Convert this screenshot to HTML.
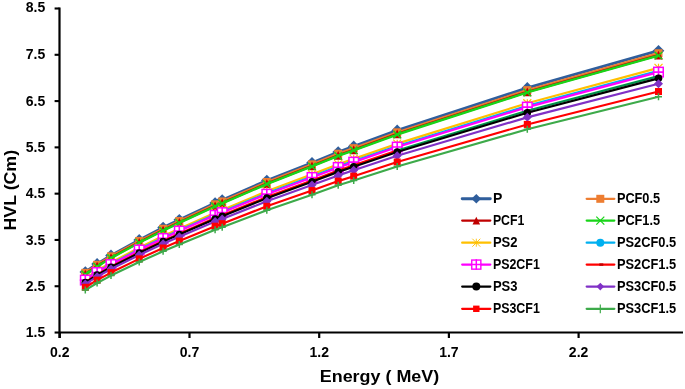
<!DOCTYPE html>
<html><head><meta charset="utf-8"><style>
html,body{margin:0;padding:0;background:#fff;}
svg{display:block;will-change:transform;}
text{font-family:"Liberation Sans",sans-serif;font-weight:bold;fill:#000;}
.tk{font-size:14px;}
.lg{font-size:14px;}
.at{font-size:17px;}
</style></head><body>
<svg width="685" height="389" viewBox="0 0 685 389">
<rect width="685" height="389" fill="#fff"/>
<polyline points="85.30,272.00 97.10,263.90 111.00,255.40 139.20,239.90 163.10,227.60 179.30,219.80 215.10,203.00 222.20,200.10 266.80,180.50 312.00,162.70 338.20,152.00 353.70,146.40 397.20,130.40 527.30,87.90 658.50,50.70" fill="none" stroke="#2F5E9C" stroke-width="2.8" stroke-linejoin="round"/>
<path d="M85.30 266.20L91.10 272.00L85.30 277.80L79.50 272.00Z" fill="#2F5E9C"/>
<path d="M97.10 258.10L102.90 263.90L97.10 269.70L91.30 263.90Z" fill="#2F5E9C"/>
<path d="M111.00 249.60L116.80 255.40L111.00 261.20L105.20 255.40Z" fill="#2F5E9C"/>
<path d="M139.20 234.10L145.00 239.90L139.20 245.70L133.40 239.90Z" fill="#2F5E9C"/>
<path d="M163.10 221.80L168.90 227.60L163.10 233.40L157.30 227.60Z" fill="#2F5E9C"/>
<path d="M179.30 214.00L185.10 219.80L179.30 225.60L173.50 219.80Z" fill="#2F5E9C"/>
<path d="M215.10 197.20L220.90 203.00L215.10 208.80L209.30 203.00Z" fill="#2F5E9C"/>
<path d="M222.20 194.30L228.00 200.10L222.20 205.90L216.40 200.10Z" fill="#2F5E9C"/>
<path d="M266.80 174.70L272.60 180.50L266.80 186.30L261.00 180.50Z" fill="#2F5E9C"/>
<path d="M312.00 156.90L317.80 162.70L312.00 168.50L306.20 162.70Z" fill="#2F5E9C"/>
<path d="M338.20 146.20L344.00 152.00L338.20 157.80L332.40 152.00Z" fill="#2F5E9C"/>
<path d="M353.70 140.60L359.50 146.40L353.70 152.20L347.90 146.40Z" fill="#2F5E9C"/>
<path d="M397.20 124.60L403.00 130.40L397.20 136.20L391.40 130.40Z" fill="#2F5E9C"/>
<path d="M527.30 82.10L533.10 87.90L527.30 93.70L521.50 87.90Z" fill="#2F5E9C"/>
<path d="M658.50 44.90L664.30 50.70L658.50 56.50L652.70 50.70Z" fill="#2F5E9C"/>
<polyline points="85.30,272.83 97.10,264.79 111.00,256.35 139.20,240.96 163.10,228.76 179.30,221.02 215.10,204.34 222.20,201.46 266.80,182.01 312.00,164.35 338.20,153.73 353.70,148.17 397.20,132.30 527.30,90.13 658.50,53.23" fill="none" stroke="#ED7D31" stroke-width="2.4" stroke-linejoin="round"/>
<rect x="81.30" y="268.83" width="8" height="8" fill="#ED7D31"/>
<rect x="93.10" y="260.79" width="8" height="8" fill="#ED7D31"/>
<rect x="107.00" y="252.35" width="8" height="8" fill="#ED7D31"/>
<rect x="135.20" y="236.96" width="8" height="8" fill="#ED7D31"/>
<rect x="159.10" y="224.76" width="8" height="8" fill="#ED7D31"/>
<rect x="175.30" y="217.02" width="8" height="8" fill="#ED7D31"/>
<rect x="211.10" y="200.34" width="8" height="8" fill="#ED7D31"/>
<rect x="218.20" y="197.46" width="8" height="8" fill="#ED7D31"/>
<rect x="262.80" y="178.01" width="8" height="8" fill="#ED7D31"/>
<rect x="308.00" y="160.35" width="8" height="8" fill="#ED7D31"/>
<rect x="334.20" y="149.73" width="8" height="8" fill="#ED7D31"/>
<rect x="349.70" y="144.17" width="8" height="8" fill="#ED7D31"/>
<rect x="393.20" y="128.30" width="8" height="8" fill="#ED7D31"/>
<rect x="523.30" y="86.13" width="8" height="8" fill="#ED7D31"/>
<rect x="654.50" y="49.23" width="8" height="8" fill="#ED7D31"/>
<polyline points="85.30,274.04 97.10,266.03 111.00,257.63 139.20,242.30 163.10,230.13 179.30,222.42 215.10,205.80 222.20,202.93 266.80,183.54 312.00,165.92 338.20,155.34 353.70,149.79 397.20,133.96 527.30,91.88 658.50,55.04" fill="none" stroke="#C00000" stroke-width="2.4" stroke-linejoin="round"/>
<path d="M85.30 269.64L89.70 278.44L80.90 278.44Z" fill="#C00000"/>
<path d="M97.10 261.63L101.50 270.43L92.70 270.43Z" fill="#C00000"/>
<path d="M111.00 253.23L115.40 262.03L106.60 262.03Z" fill="#C00000"/>
<path d="M139.20 237.90L143.60 246.70L134.80 246.70Z" fill="#C00000"/>
<path d="M163.10 225.73L167.50 234.53L158.70 234.53Z" fill="#C00000"/>
<path d="M179.30 218.02L183.70 226.82L174.90 226.82Z" fill="#C00000"/>
<path d="M215.10 201.40L219.50 210.20L210.70 210.20Z" fill="#C00000"/>
<path d="M222.20 198.53L226.60 207.33L217.80 207.33Z" fill="#C00000"/>
<path d="M266.80 179.14L271.20 187.94L262.40 187.94Z" fill="#C00000"/>
<path d="M312.00 161.52L316.40 170.32L307.60 170.32Z" fill="#C00000"/>
<path d="M338.20 150.94L342.60 159.74L333.80 159.74Z" fill="#C00000"/>
<path d="M353.70 145.39L358.10 154.19L349.30 154.19Z" fill="#C00000"/>
<path d="M397.20 129.56L401.60 138.36L392.80 138.36Z" fill="#C00000"/>
<path d="M527.30 87.48L531.70 96.28L522.90 96.28Z" fill="#C00000"/>
<path d="M658.50 50.64L662.90 59.44L654.10 59.44Z" fill="#C00000"/>
<polyline points="85.30,274.48 97.10,266.48 111.00,258.08 139.20,242.77 163.10,230.62 179.30,222.91 215.10,206.30 222.20,203.43 266.80,184.06 312.00,166.46 338.20,155.88 353.70,150.34 397.20,134.51 527.30,92.46 658.50,55.63" fill="none" stroke="#18D418" stroke-width="2.4" stroke-linejoin="round"/>
<path d="M81.60 270.78L89.00 278.18M89.00 270.78L81.60 278.18" stroke="#18D418" stroke-width="1.5" fill="none"/>
<path d="M93.40 262.78L100.80 270.18M100.80 262.78L93.40 270.18" stroke="#18D418" stroke-width="1.5" fill="none"/>
<path d="M107.30 254.38L114.70 261.78M114.70 254.38L107.30 261.78" stroke="#18D418" stroke-width="1.5" fill="none"/>
<path d="M135.50 239.07L142.90 246.47M142.90 239.07L135.50 246.47" stroke="#18D418" stroke-width="1.5" fill="none"/>
<path d="M159.40 226.92L166.80 234.32M166.80 226.92L159.40 234.32" stroke="#18D418" stroke-width="1.5" fill="none"/>
<path d="M175.60 219.21L183.00 226.61M183.00 219.21L175.60 226.61" stroke="#18D418" stroke-width="1.5" fill="none"/>
<path d="M211.40 202.60L218.80 210.00M218.80 202.60L211.40 210.00" stroke="#18D418" stroke-width="1.5" fill="none"/>
<path d="M218.50 199.73L225.90 207.13M225.90 199.73L218.50 207.13" stroke="#18D418" stroke-width="1.5" fill="none"/>
<path d="M263.10 180.36L270.50 187.76M270.50 180.36L263.10 187.76" stroke="#18D418" stroke-width="1.5" fill="none"/>
<path d="M308.30 162.76L315.70 170.16M315.70 162.76L308.30 170.16" stroke="#18D418" stroke-width="1.5" fill="none"/>
<path d="M334.50 152.18L341.90 159.58M341.90 152.18L334.50 159.58" stroke="#18D418" stroke-width="1.5" fill="none"/>
<path d="M350.00 146.64L357.40 154.04M357.40 146.64L350.00 154.04" stroke="#18D418" stroke-width="1.5" fill="none"/>
<path d="M393.50 130.81L400.90 138.21M400.90 130.81L393.50 138.21" stroke="#18D418" stroke-width="1.5" fill="none"/>
<path d="M523.60 88.76L531.00 96.16M531.00 88.76L523.60 96.16" stroke="#18D418" stroke-width="1.5" fill="none"/>
<path d="M654.80 51.93L662.20 59.33M662.20 51.93L654.80 59.33" stroke="#18D418" stroke-width="1.5" fill="none"/>
<polyline points="85.30,278.32 97.10,270.62 111.00,262.54 139.20,247.79 163.10,236.09 179.30,228.68 215.10,212.70 222.20,209.94 266.80,191.30 312.00,174.37 338.20,164.19 353.70,158.87 397.20,143.65 527.30,103.23 658.50,67.85" fill="none" stroke="#FFC000" stroke-width="2.15" stroke-linejoin="round"/>
<path d="M81.30 274.32L89.30 282.32M89.30 274.32L81.30 282.32M85.30 274.32L85.30 282.32" stroke="#FFC000" stroke-width="1.2" fill="none"/>
<path d="M93.10 266.62L101.10 274.62M101.10 266.62L93.10 274.62M97.10 266.62L97.10 274.62" stroke="#FFC000" stroke-width="1.2" fill="none"/>
<path d="M107.00 258.54L115.00 266.54M115.00 258.54L107.00 266.54M111.00 258.54L111.00 266.54" stroke="#FFC000" stroke-width="1.2" fill="none"/>
<path d="M135.20 243.79L143.20 251.79M143.20 243.79L135.20 251.79M139.20 243.79L139.20 251.79" stroke="#FFC000" stroke-width="1.2" fill="none"/>
<path d="M159.10 232.09L167.10 240.09M167.10 232.09L159.10 240.09M163.10 232.09L163.10 240.09" stroke="#FFC000" stroke-width="1.2" fill="none"/>
<path d="M175.30 224.68L183.30 232.68M183.30 224.68L175.30 232.68M179.30 224.68L179.30 232.68" stroke="#FFC000" stroke-width="1.2" fill="none"/>
<path d="M211.10 208.70L219.10 216.70M219.10 208.70L211.10 216.70M215.10 208.70L215.10 216.70" stroke="#FFC000" stroke-width="1.2" fill="none"/>
<path d="M218.20 205.94L226.20 213.94M226.20 205.94L218.20 213.94M222.20 205.94L222.20 213.94" stroke="#FFC000" stroke-width="1.2" fill="none"/>
<path d="M262.80 187.30L270.80 195.30M270.80 187.30L262.80 195.30M266.80 187.30L266.80 195.30" stroke="#FFC000" stroke-width="1.2" fill="none"/>
<path d="M308.00 170.37L316.00 178.37M316.00 170.37L308.00 178.37M312.00 170.37L312.00 178.37" stroke="#FFC000" stroke-width="1.2" fill="none"/>
<path d="M334.20 160.19L342.20 168.19M342.20 160.19L334.20 168.19M338.20 160.19L338.20 168.19" stroke="#FFC000" stroke-width="1.2" fill="none"/>
<path d="M349.70 154.87L357.70 162.87M357.70 154.87L349.70 162.87M353.70 154.87L353.70 162.87" stroke="#FFC000" stroke-width="1.2" fill="none"/>
<path d="M393.20 139.65L401.20 147.65M401.20 139.65L393.20 147.65M397.20 139.65L397.20 147.65" stroke="#FFC000" stroke-width="1.2" fill="none"/>
<path d="M523.30 99.23L531.30 107.23M531.30 99.23L523.30 107.23M527.30 99.23L527.30 107.23" stroke="#FFC000" stroke-width="1.2" fill="none"/>
<path d="M654.50 63.85L662.50 71.85M662.50 63.85L654.50 71.85M658.50 63.85L658.50 71.85" stroke="#FFC000" stroke-width="1.2" fill="none"/>
<polyline points="85.30,279.59 97.10,271.95 111.00,263.94 139.20,249.31 163.10,237.71 179.30,230.35 215.10,214.50 222.20,211.77 266.80,193.27 312.00,176.48 338.20,166.38 353.70,161.09 397.20,145.99 527.30,105.88 658.50,70.76" fill="none" stroke="#00B0F0" stroke-width="2.15" stroke-linejoin="round"/>
<circle cx="85.30" cy="279.59" r="3.8" fill="#00B0F0"/>
<circle cx="97.10" cy="271.95" r="3.8" fill="#00B0F0"/>
<circle cx="111.00" cy="263.94" r="3.8" fill="#00B0F0"/>
<circle cx="139.20" cy="249.31" r="3.8" fill="#00B0F0"/>
<circle cx="163.10" cy="237.71" r="3.8" fill="#00B0F0"/>
<circle cx="179.30" cy="230.35" r="3.8" fill="#00B0F0"/>
<circle cx="215.10" cy="214.50" r="3.8" fill="#00B0F0"/>
<circle cx="222.20" cy="211.77" r="3.8" fill="#00B0F0"/>
<circle cx="266.80" cy="193.27" r="3.8" fill="#00B0F0"/>
<circle cx="312.00" cy="176.48" r="3.8" fill="#00B0F0"/>
<circle cx="338.20" cy="166.38" r="3.8" fill="#00B0F0"/>
<circle cx="353.70" cy="161.09" r="3.8" fill="#00B0F0"/>
<circle cx="397.20" cy="145.99" r="3.8" fill="#00B0F0"/>
<circle cx="527.30" cy="105.88" r="3.8" fill="#00B0F0"/>
<circle cx="658.50" cy="70.76" r="3.8" fill="#00B0F0"/>
<polyline points="85.30,280.08 97.10,272.48 111.00,264.51 139.20,249.95 163.10,238.41 179.30,231.08 215.10,215.30 222.20,212.58 266.80,194.16 312.00,177.43 338.20,167.38 353.70,162.11 397.20,147.07 527.30,107.10 658.50,72.09" fill="none" stroke="#FF00FF" stroke-width="2.15" stroke-linejoin="round"/>
<rect x="80.55" y="275.33" width="9.5" height="9.5" fill="#fff" stroke="#FF00FF" stroke-width="1.5"/><path d="M85.30 274.58V285.58M79.80 280.08H90.80" stroke="#FF00FF" stroke-width="1.6"/>
<rect x="92.35" y="267.73" width="9.5" height="9.5" fill="#fff" stroke="#FF00FF" stroke-width="1.5"/><path d="M97.10 266.98V277.98M91.60 272.48H102.60" stroke="#FF00FF" stroke-width="1.6"/>
<rect x="106.25" y="259.76" width="9.5" height="9.5" fill="#fff" stroke="#FF00FF" stroke-width="1.5"/><path d="M111.00 259.01V270.01M105.50 264.51H116.50" stroke="#FF00FF" stroke-width="1.6"/>
<rect x="134.45" y="245.20" width="9.5" height="9.5" fill="#fff" stroke="#FF00FF" stroke-width="1.5"/><path d="M139.20 244.45V255.45M133.70 249.95H144.70" stroke="#FF00FF" stroke-width="1.6"/>
<rect x="158.35" y="233.66" width="9.5" height="9.5" fill="#fff" stroke="#FF00FF" stroke-width="1.5"/><path d="M163.10 232.91V243.91M157.60 238.41H168.60" stroke="#FF00FF" stroke-width="1.6"/>
<rect x="174.55" y="226.33" width="9.5" height="9.5" fill="#fff" stroke="#FF00FF" stroke-width="1.5"/><path d="M179.30 225.58V236.58M173.80 231.08H184.80" stroke="#FF00FF" stroke-width="1.6"/>
<rect x="210.35" y="210.55" width="9.5" height="9.5" fill="#fff" stroke="#FF00FF" stroke-width="1.5"/><path d="M215.10 209.80V220.80M209.60 215.30H220.60" stroke="#FF00FF" stroke-width="1.6"/>
<rect x="217.45" y="207.83" width="9.5" height="9.5" fill="#fff" stroke="#FF00FF" stroke-width="1.5"/><path d="M222.20 207.08V218.08M216.70 212.58H227.70" stroke="#FF00FF" stroke-width="1.6"/>
<rect x="262.05" y="189.41" width="9.5" height="9.5" fill="#fff" stroke="#FF00FF" stroke-width="1.5"/><path d="M266.80 188.66V199.66M261.30 194.16H272.30" stroke="#FF00FF" stroke-width="1.6"/>
<rect x="307.25" y="172.68" width="9.5" height="9.5" fill="#fff" stroke="#FF00FF" stroke-width="1.5"/><path d="M312.00 171.93V182.93M306.50 177.43H317.50" stroke="#FF00FF" stroke-width="1.6"/>
<rect x="333.45" y="162.63" width="9.5" height="9.5" fill="#fff" stroke="#FF00FF" stroke-width="1.5"/><path d="M338.20 161.88V172.88M332.70 167.38H343.70" stroke="#FF00FF" stroke-width="1.6"/>
<rect x="348.95" y="157.36" width="9.5" height="9.5" fill="#fff" stroke="#FF00FF" stroke-width="1.5"/><path d="M353.70 156.61V167.61M348.20 162.11H359.20" stroke="#FF00FF" stroke-width="1.6"/>
<rect x="392.45" y="142.32" width="9.5" height="9.5" fill="#fff" stroke="#FF00FF" stroke-width="1.5"/><path d="M397.20 141.57V152.57M391.70 147.07H402.70" stroke="#FF00FF" stroke-width="1.6"/>
<rect x="522.55" y="102.35" width="9.5" height="9.5" fill="#fff" stroke="#FF00FF" stroke-width="1.5"/><path d="M527.30 101.60V112.60M521.80 107.10H532.80" stroke="#FF00FF" stroke-width="1.6"/>
<rect x="653.75" y="67.34" width="9.5" height="9.5" fill="#fff" stroke="#FF00FF" stroke-width="1.5"/><path d="M658.50 66.59V77.59M653.00 72.09H664.00" stroke="#FF00FF" stroke-width="1.6"/>
<polyline points="85.30,282.13 97.10,274.61 111.00,266.71 139.20,252.31 163.10,240.87 179.30,233.62 215.10,217.99 222.20,215.30 266.80,197.06 312.00,180.49 338.20,170.54 353.70,165.32 397.20,150.42" fill="none" stroke="#FF0000" stroke-width="2.15" stroke-linejoin="round"/>
<polyline points="397.20,150.42 527.30,110.82 658.50,76.13" fill="none" stroke="#00934A" stroke-width="2.15" stroke-linejoin="round"/>
<rect x="84.30" y="280.93" width="4" height="2.4" fill="#C00000"/>
<rect x="96.10" y="273.41" width="4" height="2.4" fill="#C00000"/>
<rect x="110.00" y="265.51" width="4" height="2.4" fill="#C00000"/>
<rect x="138.20" y="251.11" width="4" height="2.4" fill="#C00000"/>
<rect x="162.10" y="239.67" width="4" height="2.4" fill="#C00000"/>
<rect x="178.30" y="232.42" width="4" height="2.4" fill="#C00000"/>
<rect x="214.10" y="216.79" width="4" height="2.4" fill="#C00000"/>
<rect x="221.20" y="214.10" width="4" height="2.4" fill="#C00000"/>
<rect x="265.80" y="195.86" width="4" height="2.4" fill="#C00000"/>
<rect x="311.00" y="179.29" width="4" height="2.4" fill="#C00000"/>
<rect x="337.20" y="169.34" width="4" height="2.4" fill="#C00000"/>
<rect x="352.70" y="164.12" width="4" height="2.4" fill="#C00000"/>
<rect x="396.20" y="149.22" width="4" height="2.4" fill="#C00000"/>
<rect x="526.30" y="109.62" width="4" height="2.4" fill="#C00000"/>
<rect x="657.50" y="74.93" width="4" height="2.4" fill="#C00000"/>
<polyline points="85.30,282.56 97.10,275.10 111.00,267.26 139.20,252.97 163.10,241.62 179.30,234.43 215.10,218.93 222.20,216.26 266.80,198.17 312.00,181.75 338.20,171.87 353.70,166.71 397.20,151.94 527.30,112.70 658.50,78.34" fill="none" stroke="#000000" stroke-width="2.15" stroke-linejoin="round"/>
<circle cx="85.30" cy="282.56" r="3.8" fill="#000000"/>
<circle cx="97.10" cy="275.10" r="3.8" fill="#000000"/>
<circle cx="111.00" cy="267.26" r="3.8" fill="#000000"/>
<circle cx="139.20" cy="252.97" r="3.8" fill="#000000"/>
<circle cx="163.10" cy="241.62" r="3.8" fill="#000000"/>
<circle cx="179.30" cy="234.43" r="3.8" fill="#000000"/>
<circle cx="215.10" cy="218.93" r="3.8" fill="#000000"/>
<circle cx="222.20" cy="216.26" r="3.8" fill="#000000"/>
<circle cx="266.80" cy="198.17" r="3.8" fill="#000000"/>
<circle cx="312.00" cy="181.75" r="3.8" fill="#000000"/>
<circle cx="338.20" cy="171.87" r="3.8" fill="#000000"/>
<circle cx="353.70" cy="166.71" r="3.8" fill="#000000"/>
<circle cx="397.20" cy="151.94" r="3.8" fill="#000000"/>
<circle cx="527.30" cy="112.70" r="3.8" fill="#000000"/>
<circle cx="658.50" cy="78.34" r="3.8" fill="#000000"/>
<polyline points="85.30,284.04 97.10,276.71 111.00,269.01 139.20,254.98 163.10,243.84 179.30,236.78 215.10,221.57 222.20,218.94 266.80,201.19 312.00,185.08 338.20,175.39 353.70,170.32 397.20,155.83 527.30,117.35 658.50,83.67" fill="none" stroke="#8031C6" stroke-width="2.15" stroke-linejoin="round"/>
<path d="M85.30 279.54L89.80 284.04L85.30 288.54L80.80 284.04Z" fill="#8031C6"/>
<path d="M97.10 272.21L101.60 276.71L97.10 281.21L92.60 276.71Z" fill="#8031C6"/>
<path d="M111.00 264.51L115.50 269.01L111.00 273.51L106.50 269.01Z" fill="#8031C6"/>
<path d="M139.20 250.48L143.70 254.98L139.20 259.48L134.70 254.98Z" fill="#8031C6"/>
<path d="M163.10 239.34L167.60 243.84L163.10 248.34L158.60 243.84Z" fill="#8031C6"/>
<path d="M179.30 232.28L183.80 236.78L179.30 241.28L174.80 236.78Z" fill="#8031C6"/>
<path d="M215.10 217.07L219.60 221.57L215.10 226.07L210.60 221.57Z" fill="#8031C6"/>
<path d="M222.20 214.44L226.70 218.94L222.20 223.44L217.70 218.94Z" fill="#8031C6"/>
<path d="M266.80 196.69L271.30 201.19L266.80 205.69L262.30 201.19Z" fill="#8031C6"/>
<path d="M312.00 180.58L316.50 185.08L312.00 189.58L307.50 185.08Z" fill="#8031C6"/>
<path d="M338.20 170.89L342.70 175.39L338.20 179.89L333.70 175.39Z" fill="#8031C6"/>
<path d="M353.70 165.82L358.20 170.32L353.70 174.82L349.20 170.32Z" fill="#8031C6"/>
<path d="M397.20 151.33L401.70 155.83L397.20 160.33L392.70 155.83Z" fill="#8031C6"/>
<path d="M527.30 112.85L531.80 117.35L527.30 121.85L522.80 117.35Z" fill="#8031C6"/>
<path d="M658.50 79.17L663.00 83.67L658.50 88.17L654.00 83.67Z" fill="#8031C6"/>
<polyline points="85.30,287.27 97.10,280.10 111.00,272.58 139.20,258.86 163.10,247.98 179.30,241.08 215.10,226.22 222.20,223.65 266.80,206.31 312.00,190.57 338.20,181.11 353.70,176.15 397.20,162.00 527.30,124.43 658.50,91.54" fill="none" stroke="#FF0000" stroke-width="2.15" stroke-linejoin="round"/>
<rect x="81.80" y="283.77" width="7.0" height="7.0" fill="#FF0000"/>
<rect x="93.60" y="276.60" width="7.0" height="7.0" fill="#FF0000"/>
<rect x="107.50" y="269.08" width="7.0" height="7.0" fill="#FF0000"/>
<rect x="135.70" y="255.36" width="7.0" height="7.0" fill="#FF0000"/>
<rect x="159.60" y="244.48" width="7.0" height="7.0" fill="#FF0000"/>
<rect x="175.80" y="237.58" width="7.0" height="7.0" fill="#FF0000"/>
<rect x="211.60" y="222.72" width="7.0" height="7.0" fill="#FF0000"/>
<rect x="218.70" y="220.15" width="7.0" height="7.0" fill="#FF0000"/>
<rect x="263.30" y="202.81" width="7.0" height="7.0" fill="#FF0000"/>
<rect x="308.50" y="187.07" width="7.0" height="7.0" fill="#FF0000"/>
<rect x="334.70" y="177.61" width="7.0" height="7.0" fill="#FF0000"/>
<rect x="350.20" y="172.65" width="7.0" height="7.0" fill="#FF0000"/>
<rect x="393.70" y="158.50" width="7.0" height="7.0" fill="#FF0000"/>
<rect x="523.80" y="120.93" width="7.0" height="7.0" fill="#FF0000"/>
<rect x="655.00" y="88.04" width="7.0" height="7.0" fill="#FF0000"/>
<polyline points="85.30,290.07 97.10,283.00 111.00,275.59 139.20,262.06 163.10,251.32 179.30,244.52 215.10,229.85 222.20,227.32 266.80,210.20 312.00,194.65 338.20,185.31 353.70,180.41 397.20,166.43 527.30,129.29 658.50,96.76" fill="none" stroke="#3DAA4A" stroke-width="2.15" stroke-linejoin="round"/>
<path d="M85.30 286.57V293.57M81.80 290.07H88.80" stroke="#3DAA4A" stroke-width="1.5" fill="none"/>
<path d="M97.10 279.50V286.50M93.60 283.00H100.60" stroke="#3DAA4A" stroke-width="1.5" fill="none"/>
<path d="M111.00 272.09V279.09M107.50 275.59H114.50" stroke="#3DAA4A" stroke-width="1.5" fill="none"/>
<path d="M139.20 258.56V265.56M135.70 262.06H142.70" stroke="#3DAA4A" stroke-width="1.5" fill="none"/>
<path d="M163.10 247.82V254.82M159.60 251.32H166.60" stroke="#3DAA4A" stroke-width="1.5" fill="none"/>
<path d="M179.30 241.02V248.02M175.80 244.52H182.80" stroke="#3DAA4A" stroke-width="1.5" fill="none"/>
<path d="M215.10 226.35V233.35M211.60 229.85H218.60" stroke="#3DAA4A" stroke-width="1.5" fill="none"/>
<path d="M222.20 223.82V230.82M218.70 227.32H225.70" stroke="#3DAA4A" stroke-width="1.5" fill="none"/>
<path d="M266.80 206.70V213.70M263.30 210.20H270.30" stroke="#3DAA4A" stroke-width="1.5" fill="none"/>
<path d="M312.00 191.15V198.15M308.50 194.65H315.50" stroke="#3DAA4A" stroke-width="1.5" fill="none"/>
<path d="M338.20 181.81V188.81M334.70 185.31H341.70" stroke="#3DAA4A" stroke-width="1.5" fill="none"/>
<path d="M353.70 176.91V183.91M350.20 180.41H357.20" stroke="#3DAA4A" stroke-width="1.5" fill="none"/>
<path d="M397.20 162.93V169.93M393.70 166.43H400.70" stroke="#3DAA4A" stroke-width="1.5" fill="none"/>
<path d="M527.30 125.79V132.79M523.80 129.29H530.80" stroke="#3DAA4A" stroke-width="1.5" fill="none"/>
<path d="M658.50 93.26V100.26M655.00 96.76H662.00" stroke="#3DAA4A" stroke-width="1.5" fill="none"/>
<path d="M59.5 7.6V338M59.5 332.5H683" stroke="#000" stroke-width="2.2" fill="none"/>
<path d="M54.6 8.50H59.5" stroke="#000" stroke-width="2.1"/>
<text x="45.3" y="11.80" class="tk" text-anchor="end">8.5</text>
<path d="M54.6 54.79H59.5" stroke="#000" stroke-width="2.1"/>
<text x="45.3" y="59.39" class="tk" text-anchor="end">7.5</text>
<path d="M54.6 101.08H59.5" stroke="#000" stroke-width="2.1"/>
<text x="45.3" y="105.68" class="tk" text-anchor="end">6.5</text>
<path d="M54.6 147.37H59.5" stroke="#000" stroke-width="2.1"/>
<text x="45.3" y="151.97" class="tk" text-anchor="end">5.5</text>
<path d="M54.6 193.66H59.5" stroke="#000" stroke-width="2.1"/>
<text x="45.3" y="198.26" class="tk" text-anchor="end">4.5</text>
<path d="M54.6 239.95H59.5" stroke="#000" stroke-width="2.1"/>
<text x="45.3" y="244.55" class="tk" text-anchor="end">3.5</text>
<path d="M54.6 286.24H59.5" stroke="#000" stroke-width="2.1"/>
<text x="45.3" y="290.84" class="tk" text-anchor="end">2.5</text>
<path d="M54.6 332.53H59.5" stroke="#000" stroke-width="2.1"/>
<text x="45.3" y="337.13" class="tk" text-anchor="end">1.5</text>
<path d="M59.80 332.5V338" stroke="#000" stroke-width="2.2"/>
<text x="59.80" y="357" class="tk" text-anchor="middle">0.2</text>
<path d="M189.50 332.5V338" stroke="#000" stroke-width="2.2"/>
<text x="189.50" y="357" class="tk" text-anchor="middle">0.7</text>
<path d="M319.20 332.5V338" stroke="#000" stroke-width="2.2"/>
<text x="319.20" y="357" class="tk" text-anchor="middle">1.2</text>
<path d="M448.90 332.5V338" stroke="#000" stroke-width="2.2"/>
<text x="448.90" y="357" class="tk" text-anchor="middle">1.7</text>
<path d="M578.60 332.5V338" stroke="#000" stroke-width="2.2"/>
<text x="578.60" y="357" class="tk" text-anchor="middle">2.2</text>
<text x="379.5" y="382.4" class="at" text-anchor="middle" textLength="119.5" lengthAdjust="spacingAndGlyphs">Energy ( MeV)</text>
<text transform="translate(16.3 190.2) rotate(-90)" x="0" y="0" class="at" text-anchor="middle" textLength="80.5" lengthAdjust="spacingAndGlyphs">HVL (Cm)</text>
<line x1="462.2" y1="198.8" x2="490.3" y2="198.8" stroke="#2F5E9C" stroke-width="2.9" stroke-linecap="round"/>
<path d="M476.30 194.00L481.10 198.80L476.30 203.60L471.50 198.80Z" fill="#2F5E9C"/>
<text x="492.9" y="203.0" class="lg">P</text>
<line x1="586.7" y1="198.8" x2="614.3" y2="198.8" stroke="#ED7D31" stroke-width="2.3" stroke-linecap="round"/>
<rect x="596.30" y="194.80" width="8" height="8" fill="#ED7D31"/>
<text x="616.9" y="203.0" class="lg" textLength="43.2" lengthAdjust="spacingAndGlyphs">PCF0.5</text>
<line x1="462.2" y1="220.6" x2="490.3" y2="220.6" stroke="#C00000" stroke-width="2.3" stroke-linecap="round"/>
<path d="M476.30 216.80L480.10 224.40L472.50 224.40Z" fill="#C00000"/>
<text x="492.9" y="224.8" class="lg" textLength="31.4" lengthAdjust="spacingAndGlyphs">PCF1</text>
<line x1="586.7" y1="220.6" x2="614.3" y2="220.6" stroke="#18D418" stroke-width="2.3" stroke-linecap="round"/>
<path d="M596.30 216.60L604.30 224.60M604.30 216.60L596.30 224.60" stroke="#18D418" stroke-width="1.2" fill="none"/>
<text x="616.9" y="224.8" class="lg" textLength="43.2" lengthAdjust="spacingAndGlyphs">PCF1.5</text>
<line x1="462.2" y1="242.7" x2="490.3" y2="242.7" stroke="#FFC000" stroke-width="2.3" stroke-linecap="round"/>
<path d="M472.30 238.70L480.30 246.70M480.30 238.70L472.30 246.70M476.30 238.70L476.30 246.70" stroke="#FFC000" stroke-width="0.9" fill="none"/>
<text x="492.9" y="246.9" class="lg" textLength="24.6" lengthAdjust="spacingAndGlyphs">PS2</text>
<line x1="586.7" y1="242.7" x2="614.3" y2="242.7" stroke="#00B0F0" stroke-width="2.3" stroke-linecap="round"/>
<circle cx="600.30" cy="242.70" r="4.0" fill="#00B0F0"/>
<text x="616.9" y="246.9" class="lg" textLength="59.2" lengthAdjust="spacingAndGlyphs">PS2CF0.5</text>
<line x1="462.2" y1="264.6" x2="490.3" y2="264.6" stroke="#FF00FF" stroke-width="2.3" stroke-linecap="round"/>
<rect x="471.75" y="260.05" width="9.1" height="9.1" fill="#fff" stroke="#FF00FF" stroke-width="1.4"/><path d="M476.30 259.35V269.85M471.05 264.60H481.55" stroke="#FF00FF" stroke-width="1.5"/>
<text x="492.9" y="268.8" class="lg" textLength="46.9" lengthAdjust="spacingAndGlyphs">PS2CF1</text>
<line x1="586.7" y1="264.6" x2="614.3" y2="264.6" stroke="#FF0000" stroke-width="2.3" stroke-linecap="round"/>
<rect x="599.30" y="263.40" width="4" height="2.4" fill="#C00000"/>
<text x="616.9" y="268.8" class="lg" textLength="59.2" lengthAdjust="spacingAndGlyphs">PS2CF1.5</text>
<line x1="462.2" y1="286.6" x2="490.3" y2="286.6" stroke="#000000" stroke-width="2.3" stroke-linecap="round"/>
<circle cx="476.30" cy="286.60" r="4.0" fill="#000000"/>
<text x="492.9" y="290.8" class="lg" textLength="24.6" lengthAdjust="spacingAndGlyphs">PS3</text>
<line x1="586.7" y1="286.6" x2="614.3" y2="286.6" stroke="#8031C6" stroke-width="2.3" stroke-linecap="round"/>
<path d="M600.30 282.80L604.10 286.60L600.30 290.40L596.50 286.60Z" fill="#8031C6"/>
<text x="616.9" y="290.8" class="lg" textLength="59.2" lengthAdjust="spacingAndGlyphs">PS3CF0.5</text>
<line x1="462.2" y1="308.8" x2="490.3" y2="308.8" stroke="#FF0000" stroke-width="2.3" stroke-linecap="round"/>
<rect x="473.10" y="305.60" width="6.4" height="6.4" fill="#FF0000"/>
<text x="492.9" y="313.0" class="lg" textLength="46.9" lengthAdjust="spacingAndGlyphs">PS3CF1</text>
<line x1="586.7" y1="308.8" x2="614.3" y2="308.8" stroke="#3DAA4A" stroke-width="2.3" stroke-linecap="round"/>
<path d="M600.30 304.40V313.20M595.90 308.80H604.70" stroke="#3DAA4A" stroke-width="1.2" fill="none"/>
<text x="616.9" y="313.0" class="lg" textLength="59.2" lengthAdjust="spacingAndGlyphs">PS3CF1.5</text>
</svg>
</body></html>
